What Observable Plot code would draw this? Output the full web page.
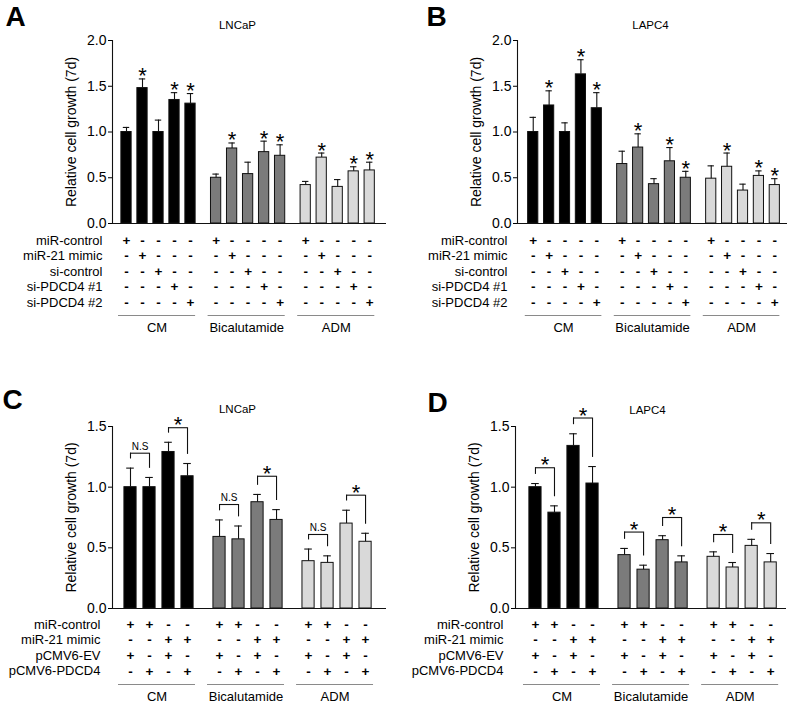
<!DOCTYPE html>
<html><head><meta charset="utf-8">
<script src="https://cdn.jsdelivr.net/npm/d3@7"></script>
<script src="https://cdn.jsdelivr.net/npm/@observablehq/plot@0.6"></script>
<style>
body{margin:0;background:#fff;}
#wrap{position:relative;width:800px;height:706px;background:#fff;overflow:hidden;}
#wrap > div{position:absolute;}
</style></head><body><div id="wrap"></div>
<script>
// ---------- data ----------
const groups = ["CM", "Bicalutamide", "ADM"];
const groupColors = ["#000000", "#7b7b7b", "#d9d9d9"];
const yAxisTitle = "Relative cell growth (7d)";

const abRowLabels = ["miR-control", "miR-21 mimic", "si-control", "si-PDCD4 #1", "si-PDCD4 #2"];
const abSigns = [
  ["+", "-", "-", "-", "-"],
  ["-", "+", "-", "-", "-"],
  ["-", "-", "+", "-", "-"],
  ["-", "-", "-", "+", "-"],
  ["-", "-", "-", "-", "+"]
];
const cdRowLabels = ["miR-control", "miR-21 mimic", "pCMV6-EV", "pCMV6-PDCD4"];
const cdSigns = [
  ["+", "+", "-", "-"],
  ["-", "-", "+", "+"],
  ["+", "-", "+", "-"],
  ["-", "+", "-", "+"]
];

const abTicks = [0, 0.5, 1.0, 1.5, 2.0];
const cdTicks = [0, 0.5, 1.0, 1.5];

// Panel A (LNCaP)
const aMean = [1.00, 1.48, 1.00, 1.35, 1.31, 0.50, 0.82, 0.54, 0.78, 0.74, 0.42, 0.72, 0.40, 0.57, 0.58];
const aErr  = [1.05, 1.58, 1.13, 1.43, 1.42, 0.54, 0.88, 0.67, 0.90, 0.86, 0.46, 0.77, 0.48, 0.62, 0.67];
const aStar = [0, 1, 0, 1, 1, 0, 1, 0, 1, 1, 0, 1, 0, 1, 1];

// Panel B (LAPC4)
const bMean = [1.00, 1.29, 1.00, 1.63, 1.26, 0.65, 0.83, 0.43, 0.68, 0.50, 0.49, 0.62, 0.36, 0.52, 0.42];
const bErr  = [1.16, 1.45, 1.10, 1.79, 1.43, 0.79, 0.98, 0.49, 0.83, 0.57, 0.63, 0.77, 0.43, 0.575, 0.49];
const bStar = [0, 1, 0, 1, 1, 0, 1, 0, 1, 1, 0, 1, 0, 1, 1];

// Panel C (LNCaP)
const cMean = [1.00, 1.00, 1.29, 1.09, 0.59, 0.57, 0.876, 0.73, 0.39, 0.376, 0.70, 0.55];
const cErr  = [1.157, 1.08, 1.37, 1.195, 0.73, 0.68, 0.94, 0.815, 0.49, 0.434, 0.81, 0.62];
const cBrLeft  = [0, 2, 4, 6, 8, 10];
const cBrRight = [1, 3, 5, 7, 9, 11];
const cBrTop   = [1.28, 1.49, 0.857, 1.09, 0.61, 0.934];
const cBrLabel = ["N.S", "*", "N.S", "*", "N.S", "*"];

// Panel D (LAPC4)
const dMean = [1.00, 0.79, 1.34, 1.03, 0.44, 0.32, 0.563, 0.38, 0.426, 0.338, 0.516, 0.38];
const dErr  = [1.03, 0.846, 1.44, 1.17, 0.495, 0.357, 0.60, 0.434, 0.467, 0.379, 0.57, 0.453];
const dBrLeft  = [0, 2, 4, 6, 8, 10];
const dBrRight = [1, 3, 5, 7, 9, 11];
const dBrTop   = [1.16, 1.57, 0.63, 0.75, 0.61, 0.706];
const dBrLabel = ["*", "*", "*", "*", "*", "*"];

// ---------- drawing ----------
const FONT = "'Liberation Sans', Arial, Helvetica, sans-serif";
const INK = "#111";

function buildPanel(cfg) {
  const nPer = cfg.signs[0].length;
  const bars = cfg.mean.map((m, i) => {
    const g = Math.floor(i / nPer), j = i % nPer;
    return {i, g, j, pos: g * cfg.stride + j, mean: m, err: cfg.err[i], star: cfg.star ? cfg.star[i] : 0};
  });
  const hw = 0.32, cap = 0.2, gap = cfg.legGap;
  const grp = groups.map((name, g) => ({name, g, a: g * cfg.stride, b: g * cfg.stride + nPer - 1}));

  const marks = [
    Plot.rect(bars, {x1: d => d.pos - hw, x2: d => d.pos + hw, y1: d => 0, y2: "mean",
      fill: d => groupColors[d.g], stroke: INK, strokeWidth: 1}),
    Plot.ruleX(bars, {x: "pos", y1: "mean", y2: "err", stroke: INK, strokeWidth: 1.1}),
    Plot.ruleY(bars, {y: "err", x1: d => d.pos - cap, x2: d => d.pos + cap, stroke: INK, strokeWidth: 1.1}),
    Plot.ruleY([0], {stroke: INK, strokeWidth: 1.1}),
    Plot.ruleX([cfg.xDomain[0]], {y1: d => 0, y2: d => cfg.ticks[cfg.ticks.length - 1], stroke: INK, strokeWidth: 1.1}),
    Plot.axisY({ticks: cfg.ticks, tickFormat: d => d.toFixed(1), tickSize: 4, tickPadding: 2,
      fontSize: 14, label: yAxisTitle, labelAnchor: "center", labelArrow: "none", labelOffset: cfg.labelOffset}),
    Plot.text(bars.filter(d => d.star), {x: "pos", y: "err", text: d => "*", fontSize: 22, lineAnchor: "bottom", dy: 4.5}),
    // title & panel letter
    Plot.text([cfg.title], {frameAnchor: "top-left", dx: cfg.titleX - cfg.mL, dy: cfg.titleY - cfg.mT,
      textAnchor: "middle", lineAnchor: "bottom", fontSize: 11.5}),
    Plot.text([cfg.letter], {frameAnchor: "top-left", dx: cfg.letterX - cfg.mL, dy: cfg.letterY - cfg.mT,
      textAnchor: "start", lineAnchor: "top", fontSize: 28, fontWeight: "bold"}),
    // group underline and labels
    Plot.ruleY(grp, {y: d => 0, x1: d => d.a - cfg.lineExt[0], x2: d => d.b + cfg.lineExt[1], dy: cfg.lineY, stroke: "#8a8a8a", strokeWidth: 1}),
    Plot.text(grp, {x: d => (d.a - cfg.lineExt[0] + d.b + cfg.lineExt[1]) / 2, y: d => 0, text: "name", dy: cfg.groupY, fontSize: 13})
  ];
  // sign table
  cfg.rowLabels.forEach((lab, r) => {
    const dy = cfg.rowY0 + r * cfg.rowStep;
    marks.push(Plot.text([lab], {frameAnchor: "left", y: d => 0, dx: -cfg.rowLabelGap, dy, textAnchor: "end", fontSize: 13}));
    marks.push(Plot.text(bars, {x: "pos", y: d => 0, text: d => cfg.signs[r][d.j], dy, fontSize: 13.5, fontWeight: "bold"}));
  });
  // brackets
  if (cfg.brLeft) {
    const br = cfg.brLeft.map((l, k) => ({
      L: bars[l].pos, R: bars[cfg.brRight[k]].pos, eL: bars[l].err, eR: bars[cfg.brRight[k]].err,
      top: cfg.brTop[k], label: cfg.brLabel[k]}));
    marks.push(Plot.ruleY(br, {y: "top", x1: "L", x2: "R", stroke: INK, strokeWidth: 1.1}));
    marks.push(Plot.ruleX(br, {x: "L", y1: d => d.eL + gap, y2: "top", stroke: INK, strokeWidth: 1.1}));
    marks.push(Plot.ruleX(br, {x: "R", y1: d => d.eR + gap, y2: "top", stroke: INK, strokeWidth: 1.1}));
    marks.push(Plot.text(br.filter(d => d.label === "*"), {x: d => (d.L + d.R) / 2, y: "top", text: "label", fontSize: 22, lineAnchor: "bottom", dy: 4.5}));
    marks.push(Plot.text(br.filter(d => d.label !== "*"), {x: d => (d.L + d.R) / 2, y: "top", text: "label", fontSize: 10, lineAnchor: "bottom", dy: -3.5}));
  }

  const chart = Plot.plot({
    width: cfg.width, height: cfg.height,
    marginLeft: cfg.mL, marginRight: cfg.mR, marginTop: cfg.mT, marginBottom: cfg.mB,
    x: {domain: cfg.xDomain, axis: null},
    y: {domain: [0, cfg.ticks[cfg.ticks.length - 1]], axis: null},
    color: {type: "identity"},
    style: {fontFamily: FONT, fontSize: "13px", color: "#000", background: "#fff", overflow: "visible"},
    marks
  });
  const holder = document.createElement("div");
  holder.style.left = cfg.left + "px";
  holder.style.top = cfg.top + "px";
  holder.appendChild(chart);
  document.getElementById("wrap").appendChild(holder);
}

const abLayout = {stride: 5.6, rowY0: 17, rowStep: 15.5, lineY: 92, groupY: 104, lineExt: [0.5, 0.32], rowLabelGap: 10, labelOffset: 46};
const cdLayout = {stride: 4.684, rowY0: 16, rowStep: 15.6, lineY: 76, groupY: 88, lineExt: [0.63, 0.42], rowLabelGap: 12, labelOffset: 46, legGap: 0.075};

buildPanel(Object.assign({}, abLayout, {
  letter: "A", title: "LNCaP", mean: aMean, err: aErr, star: aStar, rowLabels: abRowLabels, signs: abSigns,
  ticks: abTicks, xDomain: [-0.875, 16.25], left: 0, top: 0, width: 400, height: 350,
  mL: 112, mR: 14, mT: 40, mB: 127, titleX: 237, titleY: 28, letterX: 5, letterY: 6
}));
buildPanel(Object.assign({}, abLayout, {
  letter: "B", title: "LAPC4", mean: bMean, err: bErr, star: bStar, rowLabels: abRowLabels, signs: abSigns,
  ticks: abTicks, xDomain: [-0.99, 16.0], left: 400, top: 0, width: 400, height: 350,
  mL: 117, mR: 13, mT: 40, mB: 127, titleX: 250, titleY: 28, letterX: 26, letterY: 6
}));
buildPanel(Object.assign({}, cdLayout, {
  letter: "C", title: "LNCaP", mean: cMean, err: cErr, rowLabels: cdRowLabels, signs: cdSigns,
  brLeft: cBrLeft, brRight: cBrRight, brTop: cBrTop, brLabel: cBrLabel,
  ticks: cdTicks, xDomain: [-0.947, 13.47], left: 0, top: 350, width: 400, height: 356,
  mL: 112, mR: 14, mT: 76, mB: 98, titleX: 237, titleY: 62, letterX: 2, letterY: 39
}));
buildPanel(Object.assign({}, cdLayout, {
  letter: "D", title: "LAPC4", mean: dMean, err: dErr, rowLabels: cdRowLabels, signs: cdSigns,
  brLeft: dBrLeft, brRight: dBrRight, brTop: dBrTop, brLabel: dBrLabel,
  ticks: cdTicks, xDomain: [-1.05, 13.2], left: 400, top: 350, width: 400, height: 356,
  mL: 115, mR: 14, mT: 76, mB: 98, titleX: 247, titleY: 63, letterX: 27, letterY: 42
}));
</script>
</body></html>
